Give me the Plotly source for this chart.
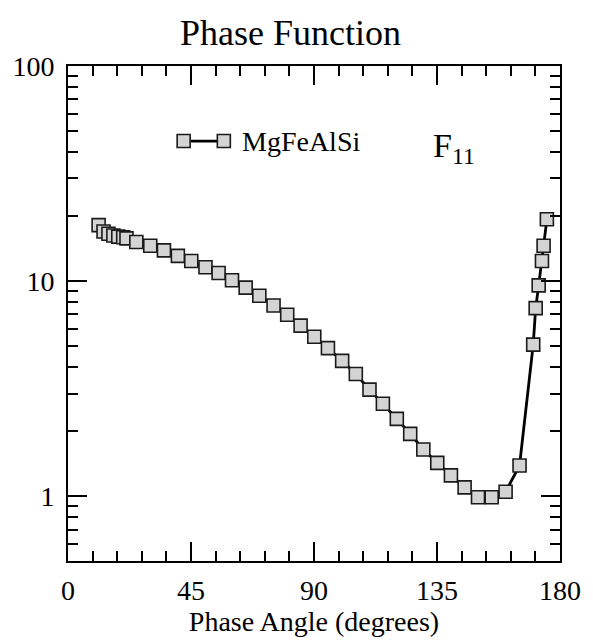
import plotly.graph_objects as go

# ---- data ----
angles = [11.2, 13.0, 14.8, 16.6, 18.4, 20.2, 21.4, 25.0, 30.1, 35.1, 40.2, 45.1,
          50.3, 55.1, 60.0, 65.0, 70.0, 75.2, 80.2, 85.1, 90.1, 95.1, 100.3, 105.3,
          110.3, 115.2, 120.3, 125.2, 130.0, 135.1, 140.1, 145.1, 150.0, 155.0,
          160.1, 165.2, 170.2, 171.1, 172.2, 173.4, 174.0, 175.2]
f11 = [18.2, 17.0, 16.6, 16.3, 16.1, 16.0, 15.8, 15.2, 14.6, 13.9, 13.1, 12.4,
       11.6, 10.9, 10.1, 9.33, 8.55, 7.70, 6.98, 6.21, 5.51, 4.88, 4.26, 3.70,
       3.13, 2.69, 2.29, 1.95, 1.65, 1.43, 1.25, 1.10, 0.99, 0.99,
       1.05, 1.39, 5.07, 7.49, 9.55, 12.4, 14.6, 19.4]
series_name = "MgFeAlSi"

x_ticks = [0, 45, 90, 135, 180]
y_ticks = [1, 10, 100]
y_ticktext = ["1", "10", "100"]
y_minor = [0.6, 0.7, 0.8, 0.9] + [k for k in range(2, 10)] + [10 * k for k in range(2, 10)]

FONT = "Liberation Serif, Times New Roman, serif"
FILL = "#d4d4d4"
EDGE = "#1a1a1a"

fig = go.Figure()
fig.add_trace(go.Scatter(
    x=angles, y=f11, mode="lines+markers", name=series_name,
    line=dict(color="black", width=2.8),
    marker=dict(symbol="square", size=13, color=FILL, line=dict(color=EDGE, width=1.6)),
    showlegend=False, hoverinfo="skip",
))

axis_common = dict(
    showline=True, linecolor="black", linewidth=2, mirror="ticks",
    ticks="inside", tickcolor="black", tickwidth=2, ticklen=19,
    showgrid=False, zeroline=False,
    tickfont=dict(family=FONT, size=28, color="black"),
)

fig.update_xaxes(
    range=[0, 180], tickmode="array", tickvals=x_ticks, ticklabelstandoff=3,
    minor=dict(ticks="inside", dtick=9, tick0=0, ticklen=10, tickwidth=2, tickcolor="black", showgrid=False),
    title=dict(text="Phase Angle (degrees)", font=dict(family=FONT, size=28, color="black"), standoff=5),
    **axis_common,
)
fig.update_yaxes(
    type="log", range=[-0.30103, 2], tickmode="array", tickvals=y_ticks, ticktext=y_ticktext,
    ticklabelstandoff=6,
    minor=dict(ticks="inside", tickmode="array", tickvals=y_minor, ticklen=10, tickwidth=2, tickcolor="black", showgrid=False),
    **axis_common,
)

W, H = 593, 642
L, R, T, B = 62, 564, 66, 572          # plot area in page pixels

def px(xp):
    return (xp - L) / (R - L)

def py(yp):
    return (B - yp) / (B - T)

# custom legend (symbol: line with two square markers)
ly = py(142.7)
fig.add_shape(type="line", xref="paper", yref="paper", x0=px(180), x1=px(221), y0=ly, y1=ly,
              line=dict(color="black", width=2.8))
for lx in (px(180), px(221)):
    fig.add_shape(type="rect", xref="paper", yref="paper", xsizemode="pixel", ysizemode="pixel",
                  xanchor=lx, yanchor=ly, x0=-6.5, x1=6.5, y0=-6.5, y1=6.5,
                  fillcolor=FILL, line=dict(color=EDGE, width=1.6))
fig.add_annotation(text=series_name, xref="paper", yref="paper", x=px(237), y=ly,
                   xanchor="left", yanchor="middle", showarrow=False,
                   font=dict(family=FONT, size=28, color="black"))

fig.add_annotation(text="F<sub>11</sub>", xref="paper", yref="paper", x=px(432), y=py(150),
                   xanchor="left", yanchor="middle", showarrow=False,
                   font=dict(family=FONT, size=34, color="black"))

fig.add_annotation(text="Phase Function", xref="paper", yref="paper", x=px(289), y=py(32),
                   xanchor="center", yanchor="middle", showarrow=False,
                   font=dict(family=FONT, size=36, color="black"))

fig.update_layout(
    width=W, height=H,
    margin=dict(l=L, r=W - R, t=T, b=H - B, pad=0),
    paper_bgcolor="white", plot_bgcolor="white",
    font=dict(family=FONT, color="black"),
    hovermode=False,
)

fig.write_html("out.html", config={"displayModeBar": False, "staticPlot": True},
               post_script="document.body.style.margin='0';document.body.style.overflow='hidden';")
